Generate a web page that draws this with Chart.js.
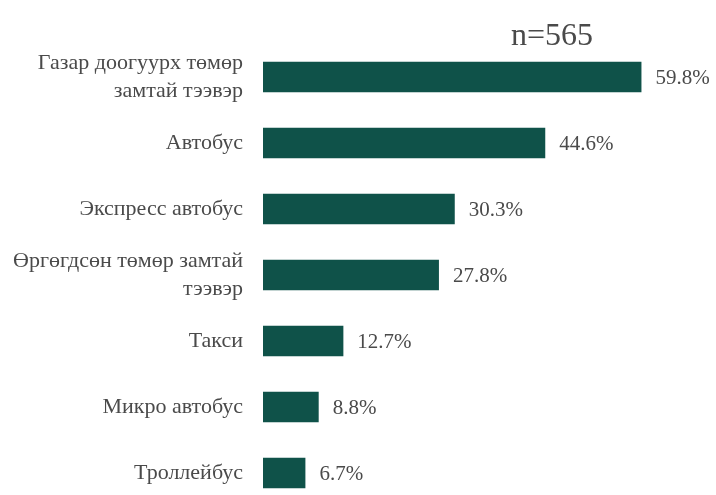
<!DOCTYPE html>
<html>
<head>
<meta charset="utf-8">
<script src="https://cdn.jsdelivr.net/npm/chart.js@4"></script>
<style>
html,body{margin:0;padding:0;background:#fff;overflow:hidden;width:716px;height:495px;}
canvas{display:block;}
</style>
</head>
<body>
<canvas id="c" width="716" height="554" style="width:716px;height:554px"></canvas>
<script>
const categories = [
  ["Газар доогуурх төмөр", "замтай тээвэр"],
  "Автобус",
  "Экспресс автобус",
  ["Өргөгдсөн төмөр замтай", "тээвэр"],
  "Такси",
  "Микро автобус",
  "Троллейбус"
];
const shares = [59.8, 44.6, 30.3, 27.8, 12.7, 8.8, 6.7];
const sampleNote = "n=565";

const textColor = "#4a4a4a";
const fontFamily = "'Liberation Serif', 'Times New Roman', serif";

const valueLabels = {
  id: "valueLabels",
  afterDatasetsDraw(chart) {
    const ctx = chart.ctx;
    ctx.save();
    ctx.fillStyle = textColor;
    ctx.font = "21px " + fontFamily;
    ctx.textBaseline = "middle";
    ctx.textAlign = "left";
    chart.getDatasetMeta(0).data.forEach((bar, i) => {
      ctx.fillText(shares[i].toFixed(1) + "%", bar.x + 14, bar.y + 1);
    });
    ctx.font = "32px " + fontFamily;
    ctx.textBaseline = "alphabetic";
    ctx.fillText(sampleNote, 511, 45);
    ctx.restore();
  }
};

new Chart(document.getElementById("c"), {
  type: "bar",
  data: {
    labels: categories,
    datasets: [{
      data: shares,
      backgroundColor: "#0f5249",
      borderWidth: 0,
      categoryPercentage: 0.92,
      barPercentage: 0.5
    }]
  },
  options: {
    indexAxis: "y",
    responsive: false,
    animation: false,
    layout: { padding: { top: 44, bottom: 14, right: 10, left: 0 } },
    plugins: { legend: { display: false }, tooltip: { enabled: false }, title: { display: false } },
    scales: {
      x: { min: 0, max: 70, display: false, grid: { display: false } },
      y: {
        grid: { display: false, drawTicks: false },
        border: { display: false },
        ticks: {
          color: textColor,
          padding: 20,
          font: { family: fontFamily, size: 22, lineHeight: 1.27 }
        },
        afterFit(scale) { scale.width = 263; }
      }
    }
  },
  plugins: [valueLabels]
});
</script>
</body>
</html>
